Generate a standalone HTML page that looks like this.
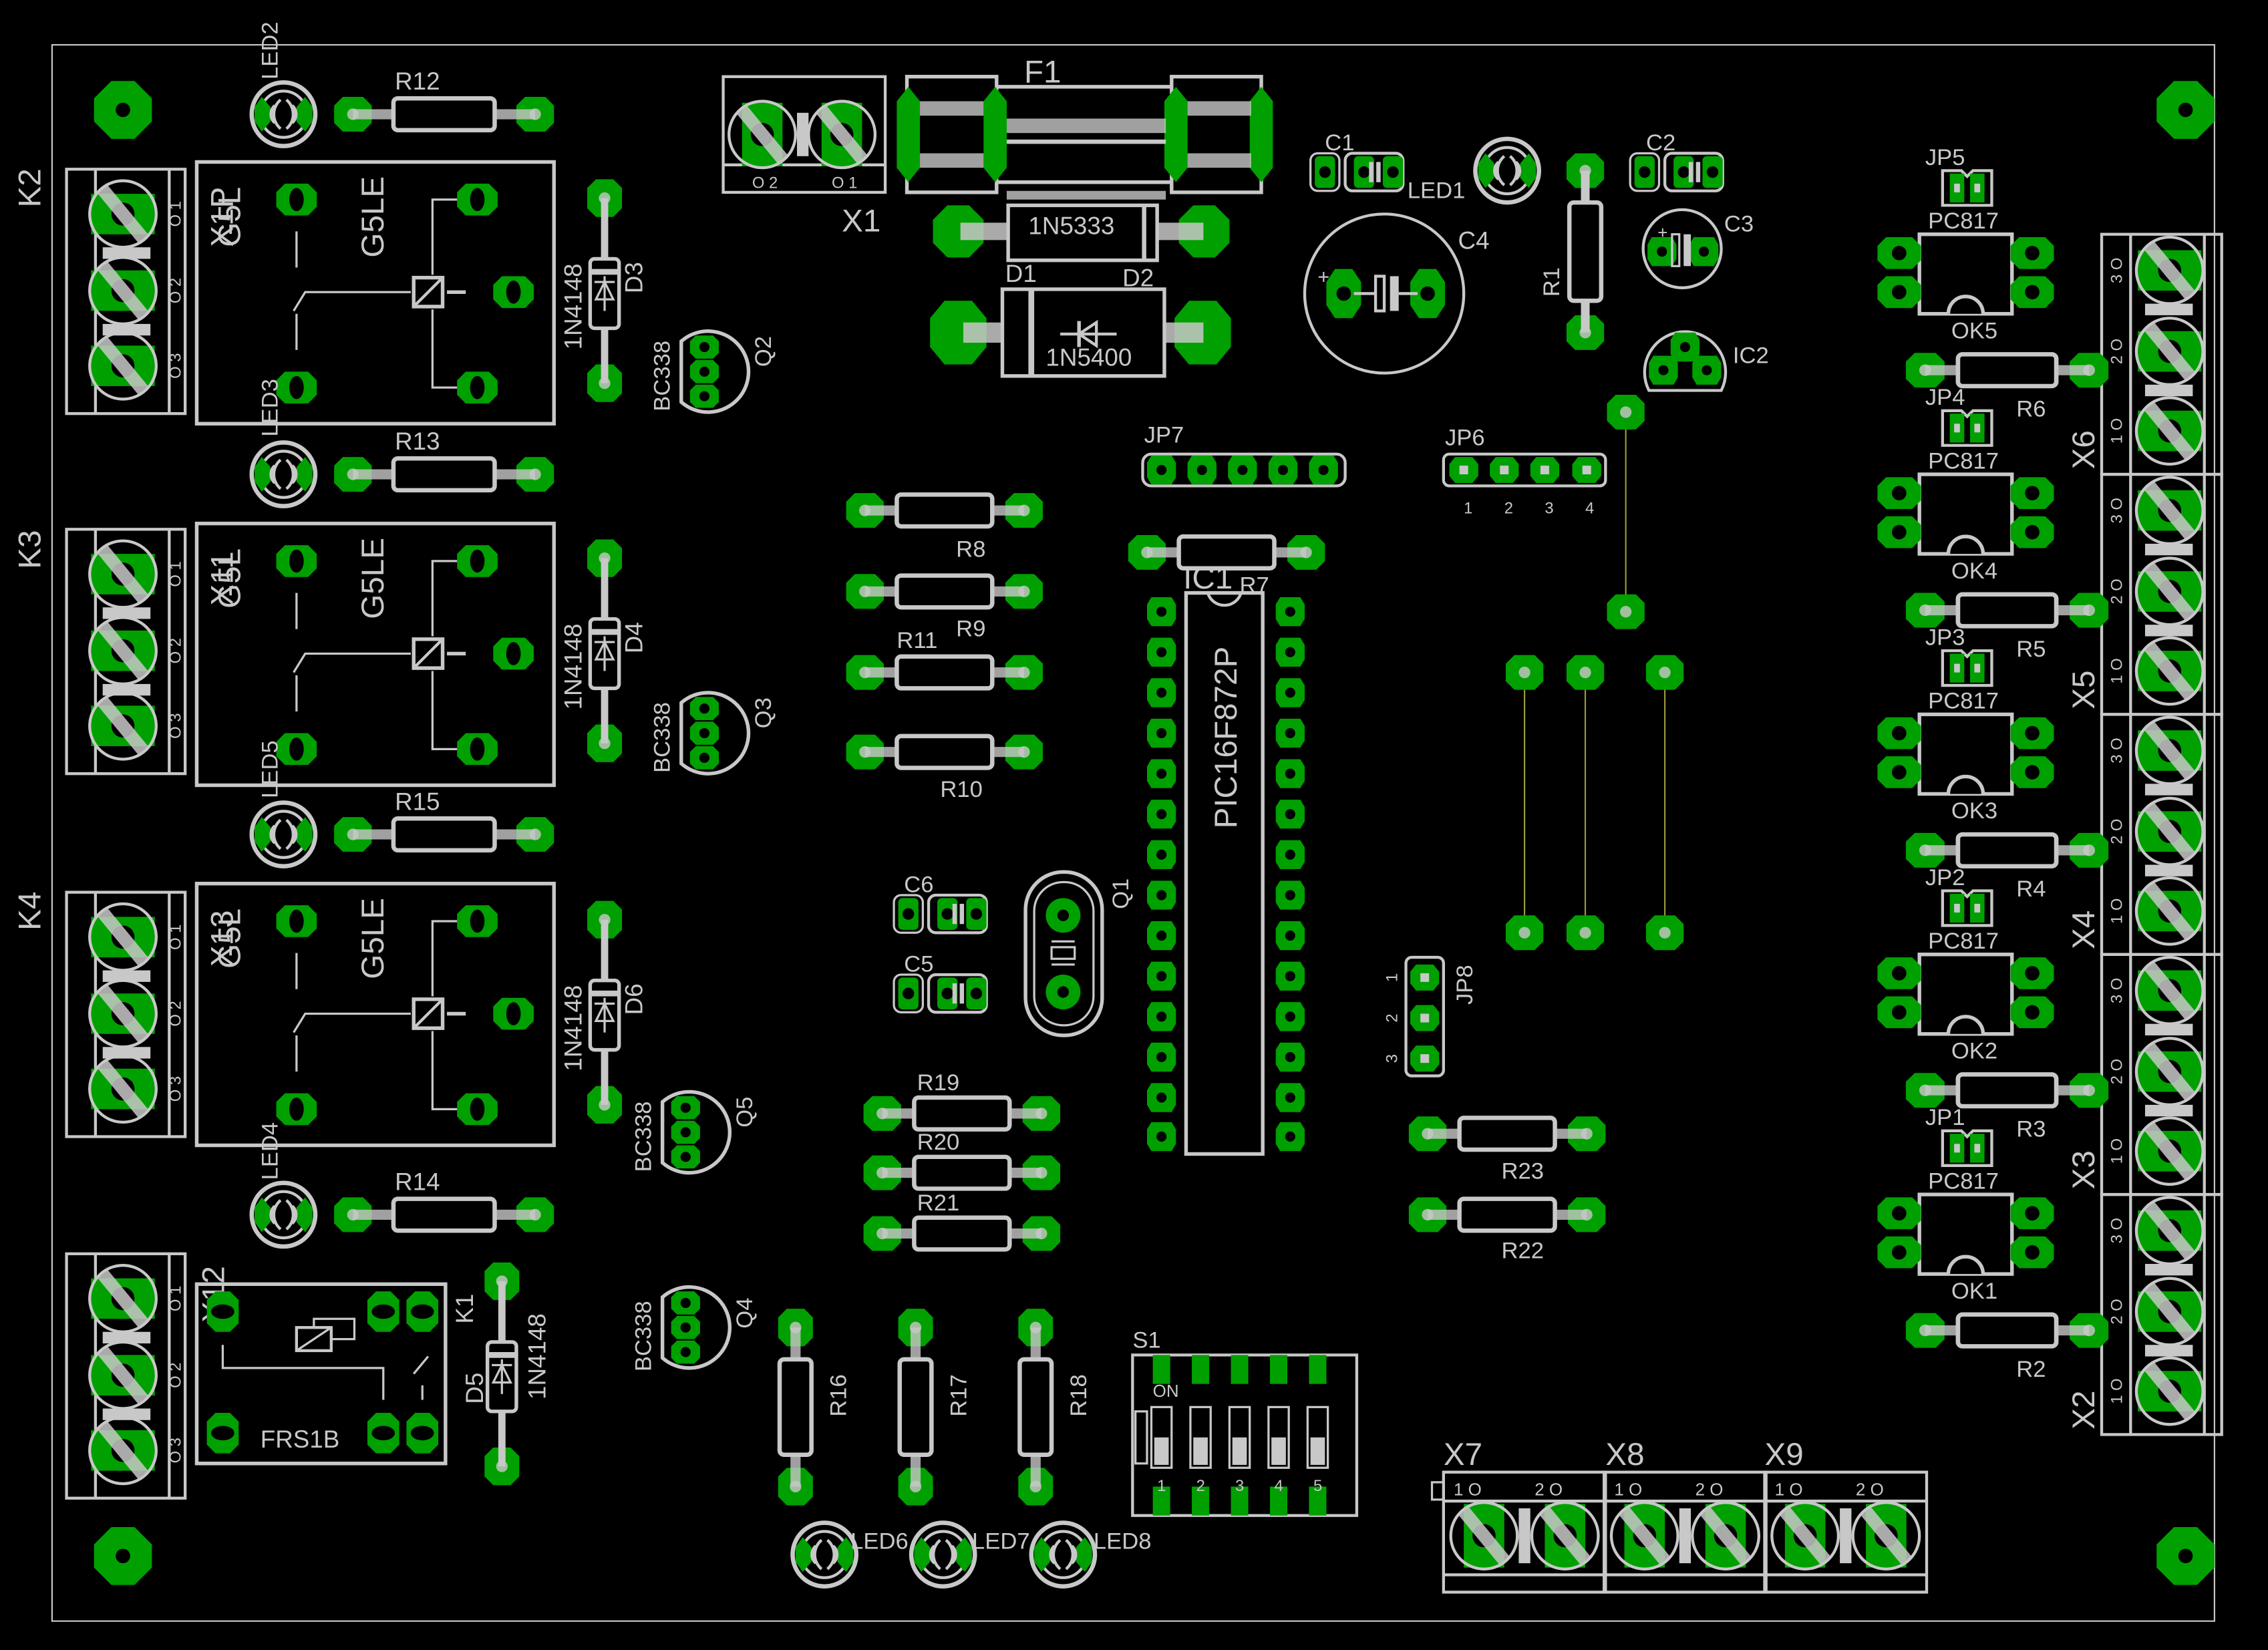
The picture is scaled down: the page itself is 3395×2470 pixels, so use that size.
<!DOCTYPE html>
<html><head><meta charset="utf-8"><style>
html,body{margin:0;padding:0;background:#000;}
svg{display:block;}
text{font-family:"Liberation Sans",sans-serif;fill:#c8c8c8;}
</style></head><body>
<svg width="3395" height="2470" viewBox="0 0 1568 1141" preserveAspectRatio="none" xmlns="http://www.w3.org/2000/svg">
<defs>
<g id="p"><polygon points="-15,-5 -9,-11 9,-11 15,-5 15,5 9,11 -9,11 -15,5" fill="#00a000"/><circle r="5" fill="#000"/></g>
<g id="pv"><polygon points="-14,-5 -8,-11 8,-11 14,-5 14,5 8,11 -8,11 -14,5" fill="#00a000"/><ellipse rx="5" ry="8" fill="#000"/></g>
<g id="pr"><polygon points="-13,-6 -7,-12 7,-12 13,-6 13,6 7,12 -7,12 -13,6" fill="#00a000"/><circle r="4" fill="#c8c8c8" opacity=".8"/></g>
<g id="pt"><polygon points="-10,-4 -6,-8 6,-8 10,-4 10,4 6,8 -6,8 -10,4" fill="#00a000"/><circle r="3.5" fill="#000"/></g>
<g id="rh"><use href="#pr"/><use href="#pr" x="126"/><line x1="0" y1="0" x2="28" y2="0" stroke="#c8c8c8" stroke-width="7" opacity=".8"/><line x1="98" y1="0" x2="126" y2="0" stroke="#c8c8c8" stroke-width="7" opacity=".8"/><rect x="28" y="-11" width="70" height="22" rx="3" fill="none" stroke="#c8c8c8" stroke-width="3"/></g>
<g id="rm"><use href="#pr"/><use href="#pr" x="110"/><line x1="0" y1="0" x2="22" y2="0" stroke="#c8c8c8" stroke-width="7" opacity=".8"/><line x1="88" y1="0" x2="110" y2="0" stroke="#c8c8c8" stroke-width="7" opacity=".8"/><rect x="22" y="-11" width="66" height="22" rx="3" fill="none" stroke="#c8c8c8" stroke-width="3"/></g>
<g id="sc"><polygon points="-22,-14 22,-14 22,14 -22,14" fill="#00a000"/><circle r="8" fill="#000"/><circle r="23" fill="none" stroke="#c8c8c8" stroke-width="2"/><line x1="-14" y1="-17" x2="14" y2="17" stroke="#c8c8c8" stroke-width="9" opacity=".85"/></g>
<g id="scv"><polygon points="-14,-22 14,-22 14,22 -14,22" fill="#00a000"/><circle r="8" fill="#000"/><circle r="23" fill="none" stroke="#c8c8c8" stroke-width="2"/><line x1="-14" y1="-17" x2="14" y2="17" stroke="#c8c8c8" stroke-width="9" opacity=".85"/></g>
<g id="led"><circle r="22" fill="none" stroke="#c8c8c8" stroke-width="3"/><circle r="16" fill="none" stroke="#c8c8c8" stroke-width="2"/><polygon points="-20,-5 -15,-12 -9,-5 -9,5 -15,12 -20,5" fill="#00a000"/><polygon points="20,-5 15,-12 9,-5 9,5 15,12 20,5" fill="#00a000"/><path d="M-6,-6 A8,8 0 0 0 -6,6 M-2,-10 A13,13 0 0 0 -2,10 M6,6 A8,8 0 0 0 6,-6 M2,10 A13,13 0 0 0 2,-10" fill="none" stroke="#c8c8c8" stroke-width="2"/></g>
<g id="relay"><rect x="0" y="0" width="247" height="181" fill="none" stroke="#c8c8c8" stroke-width="2.5"/>
<use href="#pv" x="69" y="26"/><use href="#pv" x="69" y="156"/><use href="#pv" x="194" y="26"/><use href="#pv" x="219" y="90"/><use href="#pv" x="194" y="156"/>
<line x1="69" y1="48" x2="69" y2="73" stroke="#c8c8c8" stroke-width="1.5"/><line x1="69" y1="105" x2="69" y2="130" stroke="#c8c8c8" stroke-width="1.5"/>
<polyline points="67,103 75,90 148,90" fill="none" stroke="#c8c8c8" stroke-width="1.5"/>
<rect x="150" y="80" width="20" height="20" fill="none" stroke="#c8c8c8" stroke-width="2.5"/><line x1="150" y1="100" x2="170" y2="80" stroke="#c8c8c8" stroke-width="2"/>
<line x1="173" y1="90" x2="186" y2="90" stroke="#c8c8c8" stroke-width="2.5"/>
<polyline points="180,26 163,26 163,78" fill="none" stroke="#c8c8c8" stroke-width="1.5"/>
<polyline points="163,102 163,156 180,156" fill="none" stroke="#c8c8c8" stroke-width="1.5"/></g>
<g id="term3"><rect x="0" y="0" width="82" height="169" fill="none" stroke="#c8c8c8" stroke-width="2"/><line x1="20" y1="0" x2="20" y2="169" stroke="#c8c8c8" stroke-width="2"/><line x1="71" y1="0" x2="71" y2="169" stroke="#c8c8c8" stroke-width="2"/>
<use href="#sc" x="39" y="31"/><use href="#sc" x="39" y="84"/><use href="#sc" x="39" y="136"/>
<rect x="25" y="54" width="33" height="8" fill="#c8c8c8"/><rect x="25" y="107" width="33" height="8" fill="#c8c8c8"/>
<text transform="translate(79,31) rotate(-90)" font-size="11" text-anchor="middle">O 1</text><text transform="translate(79,84) rotate(-90)" font-size="11" text-anchor="middle">O 2</text><text transform="translate(79,136) rotate(-90)" font-size="11" text-anchor="middle">O 3</text></g>
<g id="termR"><rect x="0" y="0" width="83" height="166" fill="none" stroke="#c8c8c8" stroke-width="2"/><line x1="20" y1="0" x2="20" y2="166" stroke="#c8c8c8" stroke-width="2"/><line x1="71" y1="0" x2="71" y2="166" stroke="#c8c8c8" stroke-width="2"/>
<use href="#sc" x="47" y="25"/><use href="#sc" x="47" y="81"/><use href="#sc" x="47" y="136"/>
<rect x="30" y="48" width="33" height="8" fill="#c8c8c8"/><rect x="30" y="104" width="33" height="8" fill="#c8c8c8"/>
<text transform="translate(14,25) rotate(-90)" font-size="11" text-anchor="middle">3 O</text><text transform="translate(14,81) rotate(-90)" font-size="11" text-anchor="middle">2 O</text><text transform="translate(14,136) rotate(-90)" font-size="11" text-anchor="middle">1 O</text></g>
<g id="diode"><use href="#pr" transform="rotate(90)"/><use href="#pr" transform="translate(0,128) rotate(90)"/><line x1="0" y1="0" x2="0" y2="128" stroke="#c8c8c8" stroke-width="5"/><rect x="-10" y="42" width="20" height="48" rx="3" fill="#000" stroke="#c8c8c8" stroke-width="2.5"/><line x1="-10" y1="51" x2="10" y2="51" stroke="#c8c8c8" stroke-width="4"/><polygon points="0,58 -6,70 6,70" fill="none" stroke="#c8c8c8" stroke-width="1.5"/><line x1="-7" y1="58" x2="7" y2="58" stroke="#c8c8c8" stroke-width="1.5"/><line x1="0" y1="54" x2="0" y2="78" stroke="#c8c8c8" stroke-width="1.5"/></g>
<g id="tr"><path d="M-19,-21 A28,28 0 1 1 -19,21 Z" fill="none" stroke="#c8c8c8" stroke-width="2.5"/><use href="#pt" x="-3" y="-17"/><use href="#pt" x="-3" y="0"/><use href="#pt" x="-3" y="17"/></g>
<g id="ok"><rect x="0" y="0" width="64" height="55" fill="#000" stroke="#c8c8c8" stroke-width="2.5"/><path d="M20,55 A12,12 0 0 1 44,55" fill="#000" stroke="#c8c8c8" stroke-width="2.5"/><use href="#p" x="-14" y="13"/><use href="#p" x="-14" y="40"/><use href="#p" x="78" y="13"/><use href="#p" x="78" y="40"/></g>
<g id="jp2"><path d="M-17,-12 L-4,-12 L0,-8 L4,-12 L17,-12 L17,12 L-17,12 Z" fill="none" stroke="#c8c8c8" stroke-width="2"/><rect x="-12" y="-10" width="10" height="20" fill="#00a000"/><rect x="2" y="-10" width="10" height="20" fill="#00a000"/><rect x="-9" y="-3" width="4" height="6" fill="#c8c8c8"/><rect x="5" y="-3" width="4" height="6" fill="#c8c8c8"/></g>
<g id="cap"><rect x="-7" y="-11" width="14" height="22" fill="#00a000" rx="3"/><rect x="20" y="-11" width="14" height="22" fill="#00a000" rx="3"/><rect x="-10" y="-13" width="20" height="26" rx="5" fill="none" stroke="#c8c8c8" stroke-width="1.5"/><rect x="14" y="-13" width="40" height="26" rx="5" fill="none" stroke="#c8c8c8" stroke-width="2"/><rect x="40" y="-11" width="14" height="22" fill="#00a000" rx="3"/><circle cx="0" r="4" fill="#000"/><circle cx="27" r="4" fill="#000"/><circle cx="47" r="4" fill="#000"/><line x1="32" y1="-7" x2="32" y2="7" stroke="#c8c8c8" stroke-width="3"/><line x1="37" y1="-7" x2="37" y2="7" stroke="#c8c8c8" stroke-width="3"/></g>
<g id="mh"><polygon points="-20,-8 -8,-20 8,-20 20,-8 20,8 8,20 -8,20 -20,8" fill="#00a000"/><circle r="5" fill="#000"/></g>
<g id="sp"><polygon points="-7,-10 7,-10 10,-5 10,5 7,10 -7,10 -10,5 -10,-5" fill="#00a000"/><circle r="3.5" fill="#000"/></g>
<g id="st"><polygon points="-10,-4 -6,-9 6,-9 10,-4 10,4 6,9 -6,9 -10,4" fill="#00a000"/><rect x="-3" y="-3" width="6" height="6" fill="#c8c8c8"/></g>
</defs>
<rect width="1568" height="1141" fill="#000"/>
<rect x="36" y="31" width="1495" height="1090" fill="none" stroke="#c8c8c8" stroke-width="1"/>
<use href="#mh" x="85" y="76"/><use href="#mh" x="1511" y="76"/><use href="#mh" x="85" y="1076"/><use href="#mh" x="1511" y="1076"/>

<use href="#term3" x="46" y="117"/><use href="#term3" x="46" y="366"/><use href="#term3" x="46" y="617"/><use href="#term3" x="46" y="867"/>
<text transform="translate(28,130) rotate(-90)" font-size="22" text-anchor="middle">K2</text>
<text transform="translate(28,380) rotate(-90)" font-size="22" text-anchor="middle">K3</text>
<text transform="translate(28,630) rotate(-90)" font-size="22" text-anchor="middle">K4</text>
<use href="#relay" x="136" y="112"/><use href="#relay" x="136" y="362"/><use href="#relay" x="136" y="611"/>
<g font-size="22"><text transform="translate(265,150) rotate(-90)" text-anchor="middle">G5LE</text><text transform="translate(265,400) rotate(-90)" text-anchor="middle">G5LE</text><text transform="translate(265,649) rotate(-90)" text-anchor="middle">G5LE</text>
<text transform="translate(161,150) rotate(-90)" text-anchor="middle">X1P</text><text transform="translate(166,150) rotate(-90)" text-anchor="middle">G5L</text>
<text transform="translate(161,400) rotate(-90)" text-anchor="middle">X11</text><text transform="translate(166,400) rotate(-90)" text-anchor="middle">G5L</text>
<text transform="translate(161,649) rotate(-90)" text-anchor="middle">X13</text><text transform="translate(166,649) rotate(-90)" text-anchor="middle">G5L</text>
<text transform="translate(155,895) rotate(-90)" text-anchor="middle">X12</text></g>
<rect x="136" y="888" width="172" height="124" fill="none" stroke="#c8c8c8" stroke-width="2.5"/>
<g transform="translate(154,907) rotate(90)"><use href="#pv"/></g><g transform="translate(154,991) rotate(90)"><use href="#pv"/></g><g transform="translate(265,907) rotate(90)"><use href="#pv"/></g><g transform="translate(292,907) rotate(90)"><use href="#pv"/></g><g transform="translate(265,991) rotate(90)"><use href="#pv"/></g><g transform="translate(292,991) rotate(90)"><use href="#pv"/></g>
<rect x="205" y="918" width="24" height="16" fill="none" stroke="#c8c8c8" stroke-width="2"/><line x1="205" y1="934" x2="229" y2="918" stroke="#c8c8c8" stroke-width="1.5"/>
<polyline points="154,930 154,946 265,946 265,968" fill="none" stroke="#c8c8c8" stroke-width="1.5"/><polyline points="217,918 217,912 245,912 245,926 229,926" fill="none" stroke="#c8c8c8" stroke-width="1.5"/>
<line x1="286" y1="950" x2="296" y2="938" stroke="#c8c8c8" stroke-width="1.5"/><line x1="292" y1="958" x2="292" y2="968" stroke="#c8c8c8" stroke-width="1.5"/>
<text x="180" y="1001" font-size="17">FRS1B</text>
<text transform="translate(327,905) rotate(-90)" font-size="17" text-anchor="middle">K1</text>
<use href="#diode" x="418" y="137"/><use href="#diode" x="418" y="386"/><use href="#diode" x="418" y="636"/><use href="#diode" x="347" y="886"/>
<g font-size="17"><text transform="translate(402,212) rotate(-90)" text-anchor="middle">1N4148</text><text transform="translate(444,192) rotate(-90)" text-anchor="middle">D3</text>
<text transform="translate(402,461) rotate(-90)" text-anchor="middle">1N4148</text><text transform="translate(444,441) rotate(-90)" text-anchor="middle">D4</text>
<text transform="translate(402,711) rotate(-90)" text-anchor="middle">1N4148</text><text transform="translate(444,691) rotate(-90)" text-anchor="middle">D6</text>
<text transform="translate(377,938) rotate(-90)" text-anchor="middle">1N4148</text><text transform="translate(334,960) rotate(-90)" text-anchor="middle">D5</text></g>
<use href="#led" x="196" y="79"/><use href="#led" x="196" y="328"/><use href="#led" x="196" y="577"/><use href="#led" x="196" y="840"/>
<use href="#led" x="570" y="1075"/><use href="#led" x="652" y="1075"/><use href="#led" x="735" y="1075"/><use href="#led" x="1042" y="118"/>
<g font-size="16"><text transform="translate(192,35) rotate(-90)" text-anchor="middle">LED2</text><text transform="translate(192,282) rotate(-90)" text-anchor="middle">LED3</text><text transform="translate(192,532) rotate(-90)" text-anchor="middle">LED5</text><text transform="translate(192,796) rotate(-90)" text-anchor="middle">LED4</text>
<text x="588" y="1071">LED6</text><text x="672" y="1071">LED7</text><text x="756" y="1071">LED8</text><text x="973" y="137">LED1</text></g>
<use href="#rh" x="244" y="79"/><use href="#rh" x="244" y="328"/><use href="#rh" x="244" y="577"/><use href="#rh" x="244" y="840"/>
<g font-size="17"><text x="273" y="62">R12</text><text x="273" y="311">R13</text><text x="273" y="560">R15</text><text x="273" y="823">R14</text></g>
<use href="#tr" x="490" y="257"/><use href="#tr" x="490" y="507"/><use href="#tr" x="477" y="783"/><use href="#tr" x="477" y="918"/>
<g font-size="16"><text transform="translate(463,260) rotate(-90)" text-anchor="middle">BC338</text><text transform="translate(533,243) rotate(-90)" text-anchor="middle">Q2</text>
<text transform="translate(463,510) rotate(-90)" text-anchor="middle">BC338</text><text transform="translate(533,493) rotate(-90)" text-anchor="middle">Q3</text>
<text transform="translate(450,786) rotate(-90)" text-anchor="middle">BC338</text><text transform="translate(520,769) rotate(-90)" text-anchor="middle">Q5</text>
<text transform="translate(450,924) rotate(-90)" text-anchor="middle">BC338</text><text transform="translate(520,908) rotate(-90)" text-anchor="middle">Q4</text></g>
<rect x="500" y="53" width="112" height="80" fill="none" stroke="#c8c8c8" stroke-width="2"/><line x1="500" y1="114" x2="612" y2="114" stroke="#c8c8c8" stroke-width="2"/>
<use href="#scv" x="527" y="93"/><use href="#scv" x="582" y="93"/><rect x="551" y="78" width="8" height="30" fill="#c8c8c8"/>
<text x="520" y="130" font-size="11">O 2</text><text x="575" y="130" font-size="11">O 1</text>
<text x="582" y="160" font-size="22">X1</text>
<text x="708" y="57" font-size="22">F1</text>
<g stroke="#c8c8c8" stroke-width="2.5" fill="none"><rect x="627" y="53" width="62" height="80"/><rect x="810" y="53" width="62" height="80"/><line x1="689" y1="60" x2="810" y2="60"/><line x1="689" y1="126" x2="810" y2="126"/></g>
<g fill="#00a000"><polygon points="620,70 628,60 636,70 636,116 628,126 620,116"/><polygon points="680,70 688,60 696,70 696,116 688,126 680,116"/><polygon points="805,70 813,60 821,70 821,116 813,126 805,116"/><polygon points="864,70 872,60 880,70 880,116 872,126 864,116"/></g>
<g fill="#c8c8c8" opacity=".8"><rect x="636" y="70" width="44" height="10"/><rect x="636" y="106" width="44" height="10"/><rect x="821" y="70" width="44" height="10"/><rect x="821" y="106" width="44" height="10"/><rect x="696" y="82" width="110" height="10"/><rect x="696" y="132" width="110" height="6"/></g>
<line x1="696" y1="98" x2="806" y2="98" stroke="#c8c8c8" stroke-width="3"/>
<polygon points="645,152 655,142 670,142 680,152 680,168 670,178 655,178 645,168" fill="#00a000"/><polygon points="815,152 825,142 840,142 850,152 850,168 840,178 825,178 815,168" fill="#00a000"/>
<line x1="664" y1="160" x2="697" y2="160" stroke="#c8c8c8" stroke-width="12" opacity=".85"/><line x1="800" y1="160" x2="832" y2="160" stroke="#c8c8c8" stroke-width="12" opacity=".85"/>
<rect x="697" y="142" width="103" height="38" fill="none" stroke="#c8c8c8" stroke-width="2.5"/><line x1="791" y1="142" x2="791" y2="180" stroke="#c8c8c8" stroke-width="3"/>
<text x="711" y="162" font-size="17">1N5333</text>
<text x="695" y="195" font-size="17">D1</text><text x="776" y="198" font-size="17">D2</text>
<polygon points="643,220 653,208 672,208 682,220 682,240 672,252 653,252 643,240" fill="#00a000"/><polygon points="812,220 822,208 841,208 851,220 851,240 841,252 822,252 812,240" fill="#00a000"/>
<line x1="666" y1="230" x2="693" y2="230" stroke="#c8c8c8" stroke-width="14" opacity=".85"/><line x1="805" y1="230" x2="832" y2="230" stroke="#c8c8c8" stroke-width="14" opacity=".85"/>
<rect x="693" y="200" width="112" height="60" fill="none" stroke="#c8c8c8" stroke-width="2.5"/><line x1="713" y1="200" x2="713" y2="260" stroke="#c8c8c8" stroke-width="4"/>
<line x1="733" y1="231" x2="772" y2="231" stroke="#c8c8c8" stroke-width="2"/><polygon points="758,223 758,239 746,231" fill="none" stroke="#c8c8c8" stroke-width="2"/><line x1="746" y1="222" x2="746" y2="240" stroke="#c8c8c8" stroke-width="2.5"/>
<text x="723" y="253" font-size="17">1N5400</text>
<use href="#cap" x="916" y="119"/><use href="#cap" x="1137" y="119"/>
<text x="916" y="104" font-size="16">C1</text><text x="1138" y="104" font-size="16">C2</text>
<ellipse cx="957" cy="203" rx="55" ry="55" fill="none" stroke="#c8c8c8" stroke-width="2"/>
<polygon points="917,195 923,186 935,186 941,195 941,211 935,220 923,220 917,211" fill="#00a000"/><polygon points="975,195 981,186 993,186 999,195 999,211 993,220 981,220 975,211" fill="#00a000"/>
<circle cx="929" cy="203" r="5" fill="#000"/><circle cx="987" cy="203" r="5" fill="#000"/>
<rect x="951" y="191" width="6" height="24" fill="none" stroke="#c8c8c8" stroke-width="2"/><rect x="961" y="191" width="6" height="24" fill="#c8c8c8"/>
<line x1="936" y1="203" x2="951" y2="203" stroke="#c8c8c8" stroke-width="2"/><line x1="967" y1="203" x2="980" y2="203" stroke="#c8c8c8" stroke-width="2"/>
<text x="911" y="196" font-size="14">+</text><text x="1008" y="172" font-size="17">C4</text>
<use href="#pr" x="1096" y="118"/><use href="#pr" x="1096" y="230"/>
<line x1="1096" y1="118" x2="1096" y2="230" stroke="#c8c8c8" stroke-width="6"/>
<rect x="1085" y="140" width="22" height="68" rx="3" fill="#000" stroke="#c8c8c8" stroke-width="3"/>
<text transform="translate(1078,195) rotate(-90)" font-size="16" text-anchor="middle">R1</text>
<circle cx="1163" cy="172" r="27" fill="none" stroke="#c8c8c8" stroke-width="2"/>
<use href="#sp" x="1149" y="174"/><use href="#sp" x="1178" y="174"/>
<rect x="1156" y="162" width="5" height="22" fill="none" stroke="#c8c8c8" stroke-width="1.5"/><rect x="1164" y="162" width="5" height="22" fill="#c8c8c8"/>
<text x="1146" y="165" font-size="12">+</text><text x="1192" y="160" font-size="16">C3</text>
<path d="M1140,270 A28,28 0 1 1 1190,270 Z" fill="none" stroke="#c8c8c8" stroke-width="2"/>
<use href="#sp" x="1150" y="256"/><use href="#sp" x="1165" y="240"/><use href="#sp" x="1180" y="256"/>
<text x="1198" y="251" font-size="16">IC2</text>
<rect x="790" y="314" width="140" height="22" rx="6" fill="none" stroke="#c8c8c8" stroke-width="2"/>
<use href="#sp" x="803" y="325"/><use href="#sp" x="831" y="325"/><use href="#sp" x="859" y="325"/><use href="#sp" x="887" y="325"/><use href="#sp" x="915" y="325"/>
<text x="791" y="306" font-size="16">JP7</text>
<rect x="998" y="314" width="112" height="22" rx="4" fill="none" stroke="#c8c8c8" stroke-width="2"/>
<use href="#st" x="1012" y="325"/><use href="#st" x="1040" y="325"/><use href="#st" x="1068" y="325"/><use href="#st" x="1097" y="325"/>
<text x="999" y="308" font-size="16">JP6</text>
<g font-size="11"><text x="1012" y="355">1</text><text x="1040" y="355">2</text><text x="1068" y="355">3</text><text x="1096" y="355">4</text></g>
<use href="#rm" x="793" y="382"/><text x="857" y="410" font-size="16">R7</text>
<rect x="820" y="410" width="53" height="388" fill="none" stroke="#c8c8c8" stroke-width="2.5"/>
<path d="M835,410 A12,12 0 0 0 858,410" fill="none" stroke="#c8c8c8" stroke-width="2"/>
<text x="818" y="407" font-size="22">IC1</text>
<text transform="translate(855,510) rotate(-90)" font-size="22" text-anchor="middle">PIC16F872P</text>
<g id="icpads">
<use href="#sp" x="803" y="423"/><use href="#sp" x="803" y="451"/><use href="#sp" x="803" y="479"/><use href="#sp" x="803" y="507"/><use href="#sp" x="803" y="535"/><use href="#sp" x="803" y="563"/><use href="#sp" x="803" y="591"/><use href="#sp" x="803" y="619"/><use href="#sp" x="803" y="647"/><use href="#sp" x="803" y="675"/><use href="#sp" x="803" y="703"/><use href="#sp" x="803" y="731"/><use href="#sp" x="803" y="759"/><use href="#sp" x="803" y="786"/></g>
<use href="#icpads" x="89"/>
<use href="#rm" x="598" y="353"/><use href="#rm" x="598" y="409"/><use href="#rm" x="598" y="465"/><use href="#rm" x="598" y="520"/>
<g font-size="16"><text x="661" y="385">R8</text><text x="661" y="440">R9</text><text x="620" y="448">R11</text><text x="650" y="551">R10</text></g>
<use href="#cap" x="628" y="632"/><use href="#cap" x="628" y="687"/>
<text x="625" y="617" font-size="16">C6</text><text x="625" y="672" font-size="16">C5</text>
<rect x="709" y="603" width="53" height="113" rx="26" fill="none" stroke="#c8c8c8" stroke-width="2.5"/><rect x="715" y="610" width="41" height="99" rx="20" fill="none" stroke="#c8c8c8" stroke-width="1.5"/>
<circle cx="735" cy="633" r="12" fill="#00a000"/><circle cx="735" cy="686" r="12" fill="#00a000"/><circle cx="735" cy="633" r="4" fill="#000"/><circle cx="735" cy="686" r="4" fill="#000"/>
<rect x="727" y="655" width="16" height="8" fill="none" stroke="#c8c8c8" stroke-width="1.5"/><line x1="727" y1="651" x2="743" y2="651" stroke="#c8c8c8" stroke-width="1.5"/><line x1="727" y1="667" x2="743" y2="667" stroke="#c8c8c8" stroke-width="1.5"/>
<text transform="translate(780,618) rotate(-90)" font-size="16" text-anchor="middle">Q1</text>
<use href="#rm" x="610" y="770"/><use href="#rm" x="610" y="811"/><use href="#rm" x="610" y="853"/>
<g font-size="16"><text x="634" y="754">R19</text><text x="634" y="795">R20</text><text x="634" y="837">R21</text></g>
<rect x="972" y="662" width="26" height="82" rx="4" fill="none" stroke="#c8c8c8" stroke-width="2"/>
<use href="#st" x="985" y="676"/><use href="#st" x="985" y="704"/><use href="#st" x="985" y="732"/>
<g font-size="11"><text transform="translate(966,676) rotate(-90)" text-anchor="middle">1</text><text transform="translate(966,704) rotate(-90)" text-anchor="middle">2</text><text transform="translate(966,732) rotate(-90)" text-anchor="middle">3</text></g>
<text transform="translate(1018,681) rotate(-90)" font-size="16" text-anchor="middle">JP8</text>
<use href="#rm" x="987" y="784"/><use href="#rm" x="987" y="840"/>
<text x="1038" y="815" font-size="16">R23</text><text x="1038" y="870" font-size="16">R22</text>
<g stroke="#9a9a40" stroke-width="1"><line x1="1054" y1="465" x2="1054" y2="645"/><line x1="1096" y1="465" x2="1096" y2="645"/><line x1="1151" y1="465" x2="1151" y2="645"/><line x1="1124" y1="285" x2="1124" y2="423"/></g>
<use href="#pr" x="1054" y="465"/><use href="#pr" x="1096" y="465"/><use href="#pr" x="1151" y="465"/><use href="#pr" x="1054" y="645"/><use href="#pr" x="1096" y="645"/><use href="#pr" x="1151" y="645"/><use href="#pr" x="1124" y="285"/><use href="#pr" x="1124" y="423"/>
<use href="#rm" transform="translate(550,918) rotate(90)"/><use href="#rm" transform="translate(633,918) rotate(90)"/><use href="#rm" transform="translate(716,918) rotate(90)"/>
<g font-size="16"><text transform="translate(585,965) rotate(-90)" text-anchor="middle">R16</text><text transform="translate(668,965) rotate(-90)" text-anchor="middle">R17</text><text transform="translate(751,965) rotate(-90)" text-anchor="middle">R18</text></g>
<rect x="783" y="937" width="155" height="111" fill="none" stroke="#c8c8c8" stroke-width="2"/>
<text x="783" y="932" font-size="16">S1</text><text x="797" y="966" font-size="12">ON</text>
<rect x="785" y="976" width="8" height="36" fill="none" stroke="#c8c8c8" stroke-width="1.5"/>
<g id="sw"><rect x="797" y="937" width="12" height="20" fill="#00a000"/><rect x="797" y="1028" width="12" height="20" fill="#00a000"/><rect x="796" y="973" width="14" height="42" fill="none" stroke="#c8c8c8" stroke-width="1.5"/><rect x="798" y="994" width="10" height="19" fill="#c8c8c8"/></g>
<use href="#sw" x="27"/><use href="#sw" x="54"/><use href="#sw" x="81"/><use href="#sw" x="108"/>
<g font-size="11"><text x="800" y="1031">1</text><text x="827" y="1031">2</text><text x="854" y="1031">3</text><text x="881" y="1031">4</text><text x="908" y="1031">5</text></g>
<g id="x7"><rect x="998" y="1018" width="112" height="83" fill="none" stroke="#c8c8c8" stroke-width="2"/><line x1="998" y1="1038" x2="1110" y2="1038" stroke="#c8c8c8" stroke-width="2"/><line x1="998" y1="1089" x2="1110" y2="1089" stroke="#c8c8c8" stroke-width="2"/>
<use href="#scv" x="1026" y="1062"/><use href="#scv" x="1082" y="1062"/><rect x="1050" y="1043" width="8" height="38" fill="#c8c8c8"/>
<text x="1005" y="1034" font-size="12">1 O</text><text x="1061" y="1034" font-size="12">2 O</text></g>
<use href="#x7" x="111"/><use href="#x7" x="222"/>
<rect x="990" y="1025" width="8" height="12" fill="none" stroke="#c8c8c8" stroke-width="1.5"/>
<g font-size="22"><text x="998" y="1013">X7</text><text x="1110" y="1013">X8</text><text x="1220" y="1013">X9</text></g>
<use href="#termR" x="1453" y="162"/><use href="#termR" x="1453" y="328"/><use href="#termR" x="1453" y="494"/><use href="#termR" x="1453" y="660"/><use href="#termR" x="1453" y="826"/>
<g font-size="22"><text transform="translate(1448,311) rotate(-90)" text-anchor="middle">X6</text><text transform="translate(1448,477) rotate(-90)" text-anchor="middle">X5</text><text transform="translate(1448,643) rotate(-90)" text-anchor="middle">X4</text><text transform="translate(1448,809) rotate(-90)" text-anchor="middle">X3</text><text transform="translate(1448,975) rotate(-90)" text-anchor="middle">X2</text></g>
<g><use href="#jp2" x="1360" y="130"/><use href="#ok" x="1327" y="162"/>
<text x="1331" y="114" font-size="16">JP5</text><text x="1333" y="158" font-size="16">PC817</text><text x="1349" y="234" font-size="16">OK5</text>
<use href="#rm" transform="translate(1331,256) scale(1.03,1)"/><text x="1394" y="288" font-size="16">R6</text></g>
<g transform="translate(0,166)"><use href="#jp2" x="1360" y="130"/><use href="#ok" x="1327" y="162"/><text x="1331" y="114" font-size="16">JP4</text><text x="1333" y="158" font-size="16">PC817</text><text x="1349" y="234" font-size="16">OK4</text><use href="#rm" transform="translate(1331,256) scale(1.03,1)"/><text x="1394" y="288" font-size="16">R5</text></g>
<g transform="translate(0,332)"><use href="#jp2" x="1360" y="130"/><use href="#ok" x="1327" y="162"/><text x="1331" y="114" font-size="16">JP3</text><text x="1333" y="158" font-size="16">PC817</text><text x="1349" y="234" font-size="16">OK3</text><use href="#rm" transform="translate(1331,256) scale(1.03,1)"/><text x="1394" y="288" font-size="16">R4</text></g>
<g transform="translate(0,498)"><use href="#jp2" x="1360" y="130"/><use href="#ok" x="1327" y="162"/><text x="1331" y="114" font-size="16">JP2</text><text x="1333" y="158" font-size="16">PC817</text><text x="1349" y="234" font-size="16">OK2</text><use href="#rm" transform="translate(1331,256) scale(1.03,1)"/><text x="1394" y="288" font-size="16">R3</text></g>
<g transform="translate(0,664)"><use href="#jp2" x="1360" y="130"/><use href="#ok" x="1327" y="162"/><text x="1331" y="114" font-size="16">JP1</text><text x="1333" y="158" font-size="16">PC817</text><text x="1349" y="234" font-size="16">OK1</text><use href="#rm" transform="translate(1331,256) scale(1.03,1)"/><text x="1394" y="288" font-size="16">R2</text></g>
</svg>
</body></html>
